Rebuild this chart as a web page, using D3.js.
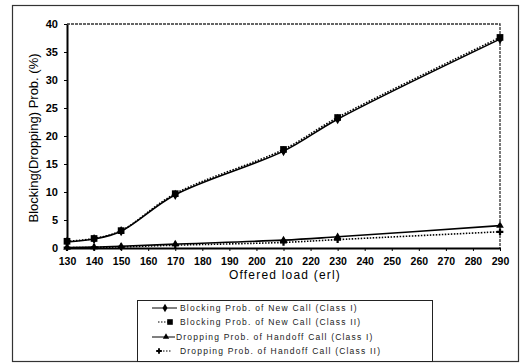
<!DOCTYPE html>
<html><head><meta charset="utf-8">
<script src="https://cdn.jsdelivr.net/npm/d3@7"></script>
<style>
body{margin:0;background:#fff;}
svg{display:block;font-family:"Liberation Sans",Arial,sans-serif;}
</style></head>
<body><svg id="c" width="523" height="364"></svg>
<script>
const loads = [130,140,150,170,210,230,290];
const blockNewC1 = [1.1,1.6,3.0,9.5,17.3,23.0,37.3];
const blockNewC2 = [1.2,1.7,3.1,9.7,17.6,23.3,37.6];
const dropHandC1 = [0.1,0.15,0.3,0.7,1.4,2.0,4.0];
const dropHandC2 = [0.05,0.1,0.2,0.5,1.0,1.5,2.9];
const xTicks = d3.range(130,291,10);
const yTicks = [0,5,10,15,20,25,30,35,40];
const seriesNames = [
 "Blocking Prob. of New Call (Class I)",
 "Blocking Prob. of New Call (Class II)",
 "Dropping Prob. of Handoff Call (Class I)",
 "Dropping Prob. of Handoff Call (Class II)"];

const svg = d3.select("#c");
const L=67,R=500,T=24,B=248;
const x = d3.scaleLinear().domain([130,290]).range([L,R]);
const y = d3.scaleLinear().domain([0,40]).range([B,T]);

// outer frame
svg.append("rect").attr("x",12.5).attr("y",5.5).attr("width",506).attr("height",356)
  .attr("fill","none").attr("stroke","#333").attr("stroke-width",1.2);

// plot border top/right
svg.append("path").attr("d",`M${L},${T}H${R}V${B}`).attr("fill","none")
  .attr("stroke","#333").attr("stroke-width",1.3).attr("stroke-dasharray","3,1");

const xa = svg.append("g").attr("transform",`translate(0,${B})`)
  .call(d3.axisBottom(x).tickValues(xTicks).tickSize(3).tickSizeOuter(0).tickFormat(d3.format("d")));
const ya = svg.append("g").attr("transform",`translate(${L},0)`)
  .call(d3.axisLeft(y).tickValues(yTicks).tickSize(3).tickSizeOuter(0));
[xa,ya].forEach(a=>{
  a.select(".domain").attr("stroke","#000").attr("stroke-width",2);
  a.selectAll(".tick line").attr("stroke","#000");
  a.selectAll("text").attr("font-family","'Liberation Sans',Arial,sans-serif")
   .attr("font-weight","bold").attr("font-size",10.5).attr("fill","#000");
});
xa.selectAll("text").attr("dy","1.0em");
ya.selectAll("text").attr("dx","-3").attr("font-size",11);

svg.append("text").attr("x",285).attr("y",279).attr("text-anchor","middle")
  .attr("font-size",12).attr("letter-spacing",1.2).attr("fill","#000").text("Offered load (erl)");
svg.append("text").attr("transform","translate(38,138) rotate(-90)").attr("text-anchor","middle")
  .attr("font-size",13).attr("fill","#000").text("Blocking(Dropping) Prob. (%)");

const all = [blockNewC1,blockNewC2,dropHandC1,dropHandC2];
const dashes = [null,"1.5,1.5",null,"1.5,1.5"];
const line = d3.line().x((d,i)=>x(loads[i])).y(d=>y(d)).curve(d3.curveCatmullRom.alpha(0.5));
all.forEach((s,k)=>{
  svg.append("path").datum(s).attr("d",line).attr("fill","none")
   .attr("stroke","#000").attr("stroke-width",1.6).attr("stroke-dasharray",dashes[k]);
});
const sym = [d3.symbolDiamond,d3.symbolSquare,d3.symbolTriangle,d3.symbolCross];
const sizes = [30,45,25,25];
function marker(g,k,cx,cy,sc){
  g.append("path").attr("d",d3.symbol().type(sym[k]).size(sizes[k]*(sc||1))())
   .attr("transform",`translate(${cx},${cy})`).attr("fill","#000");
}
all.forEach((s,k)=>{
  s.forEach((v,i)=>marker(svg,k,x(loads[i]),y(v)));
});

// legend
const lg = svg.append("g");
lg.append("rect").attr("x",137.5).attr("y",300.5).attr("width",295).attr("height",61)
  .attr("fill","#fff").attr("stroke","#222").attr("stroke-width",1);
const rowsY=[308,322,337,351];
const lx1=[152,158,152,157], lx2=[177,170,175,172], mx=[165,170,166,159], tx=[180,180,176,180];
seriesNames.forEach((n,k)=>{
  const yy=rowsY[k];
  lg.append("line").attr("x1",lx1[k]).attr("x2",lx2[k]).attr("y1",yy).attr("y2",yy)
    .attr("stroke","#000").attr("stroke-width",1).attr("stroke-dasharray",dashes[k]);
  marker(lg,k,mx[k],yy,0.7);
  lg.append("text").attr("x",tx[k]).attr("y",yy+3).attr("font-size",8.5)
    .attr("letter-spacing",1.2).attr("fill","#222").text(n);
});
</script></body></html>
